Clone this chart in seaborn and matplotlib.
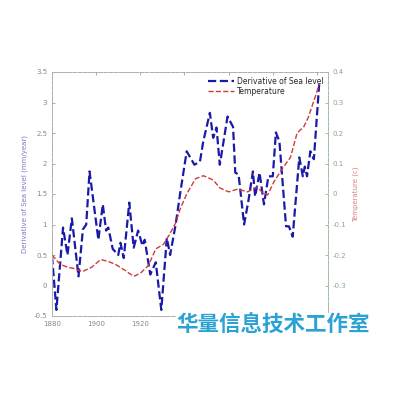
"""Sea level derivative vs temperature, two y axes."""

import matplotlib
matplotlib.use("Agg")
import matplotlib.pyplot as plt
import seaborn as sns
import pandas as pd

sns.set_style("white")
plt.rcParams['font.family'] = ['DejaVu Sans', 'Noto Sans CJK SC']

# data
years_sl = [1880, 1882, 1885, 1887, 1889, 1892, 1894, 1895.5, 1897, 1901,
            1903, 1904.5, 1905.5, 1907.5, 1910, 1911, 1912.5, 1915, 1917, 1919,
            1921, 1922, 1924.5, 1927, 1929.5, 1932, 1933.5, 1936, 1938, 1941,
            1944.5, 1947, 1948.5, 1951.5, 1953, 1954.5, 1956, 1959.5, 1962, 1963,
            1964.5, 1967, 1969, 1971, 1972, 1974, 1976, 1978, 1980, 1981.4,
            1983, 1986, 1987.3, 1989, 1992, 1993.6, 1994.5, 1995.5, 1997, 1998.6,
            2001]
sea_level_deriv = [0.48, -0.4, 0.95, 0.5, 1.1, 0.15, 0.92, 1.0, 1.87, 0.75,
                   1.33, 0.9, 0.95, 0.6, 0.5, 0.7, 0.45, 1.36, 0.62, 0.9,
                   0.65, 0.75, 0.18, 0.38, -0.4, 0.78, 0.5, 1.0, 1.5, 2.2,
                   1.98, 2.03, 2.36, 2.83, 2.42, 2.59, 1.98, 2.77, 2.6, 1.85,
                   1.82, 1.0, 1.4, 1.87, 1.46, 1.85, 1.33, 1.79, 1.79, 2.51,
                   2.36, 0.97, 0.97, 0.8, 2.1, 1.79, 1.95, 1.79, 2.2, 2.07,
                   3.3]

years_t = [1880, 1883.6, 1887, 1890.5, 1893.6, 1898, 1902, 1905, 1908.6, 1913,
           1917, 1920, 1923.6, 1927, 1930.5, 1933, 1936, 1938, 1941, 1945,
           1948.6, 1953, 1956, 1960, 1964, 1968.6, 1973, 1975, 1977.7, 1980.5,
           1984.5, 1988, 1991, 1994, 1996, 1999.5, 2001]
temperature = [-0.20, -0.23, -0.24, -0.245, -0.255, -0.24, -0.215, -0.22, -0.23, -0.25,
               -0.27, -0.26, -0.235, -0.18, -0.165, -0.135, -0.095, -0.05, 0.0, 0.05,
               0.06, 0.046, 0.02, 0.007, 0.016, 0.007, 0.023, 0.007, -0.003, 0.04,
               0.085, 0.12, 0.2, 0.22, 0.25, 0.325, 0.36]

left_ticks = [-0.5, 0, 0.5, 1, 1.5, 2, 2.5, 3, 3.5]
left_labels = ['-0.5', '0', '0.5', '1', '1.5', '2', '2.5', '3', '3.5']
right_ticks = [-0.4, -0.3, -0.2, -0.1, 0, 0.1, 0.2, 0.3, 0.4]
# -0.4 and the later years sit under the watermark in the original
right_labels = ['', '-0.3', '-0.2', '-0.1', '0', '0.1', '0.2', '0.3', '0.4']
x_ticks = [1880, 1900, 1920, 1940, 1960, 1980, 2000]
x_labels = ['1880', '1900', '1920', '', '', '', '']

df_sl = pd.DataFrame({'year': years_sl, 'value': sea_level_deriv})
df_t = pd.DataFrame({'year': years_t, 'value': temperature})

BLUE = '#1a1aa8'
RED = '#d03a3a'

fig = plt.figure(figsize=(4, 4), dpi=100)
ax = fig.add_axes([0.13, 0.21, 0.69, 0.61])
ax2 = ax.twinx()

sns.lineplot(data=df_sl, x='year', y='value', ax=ax, color=BLUE,
             linewidth=1.6, linestyle='--', label='Derivative of Sea level', legend=False)
sns.lineplot(data=df_t, x='year', y='value', ax=ax2, color=RED,
             linewidth=1.0, linestyle='--', label='Temperature', legend=False)

ax.set_xlim(1880, 2005)
ax.set_ylim(-0.5, 3.5)
ax2.set_ylim(-0.4, 0.4)

ax.set_xticks(x_ticks)
ax.set_xticklabels(x_labels)
ax.set_yticks(left_ticks)
ax.set_yticklabels(left_labels)
ax2.set_yticks(right_ticks)
ax2.set_yticklabels(right_labels)

ax.set_xlabel('')
ax.set_ylabel('Derivative of Sea level (mm/year)', fontsize=5, color='#7a7ac8')
ax2.set_ylabel('Temperature (c)', fontsize=5, color='#d88080')

ax.tick_params(axis='both', direction='in', length=2, labelsize=5, colors='#888888',
               top=True, width=0.5)
ax2.tick_params(axis='y', direction='in', length=2, labelsize=5, colors='#88aa88', width=0.5)

# dashed, faded MATLAB-ish box
for a in (ax, ax2):
    for side, sp in a.spines.items():
        sp.set_linestyle('--')
        sp.set_linewidth(0.7)
        sp.set_color('#b0b0b0')
ax.spines['left'].set_color('#a0a0c8')
ax2.spines['right'].set_color('#a0c0a0')

handles = ax.get_lines()[:1] + ax2.get_lines()[:1]
ax2.legend(handles, ['Derivative of Sea level', 'Temperature'], loc='upper right',
           bbox_to_anchor=(1.0, 1.0), frameon=False, fontsize=5.5,
           handlelength=3.5, handletextpad=0.3, borderaxespad=0.2, labelspacing=0.2)

# watermark
fig.text(0.684, 0.187, '华量信息技术工作室', fontsize=15.5, fontweight='bold',
         color='#2aa3d4', family=['Noto Sans CJK SC', 'DejaVu Sans'],
         ha='center', va='center',
         bbox=dict(facecolor='white', edgecolor='none', pad=1))

fig.savefig('out.png', dpi=100)
